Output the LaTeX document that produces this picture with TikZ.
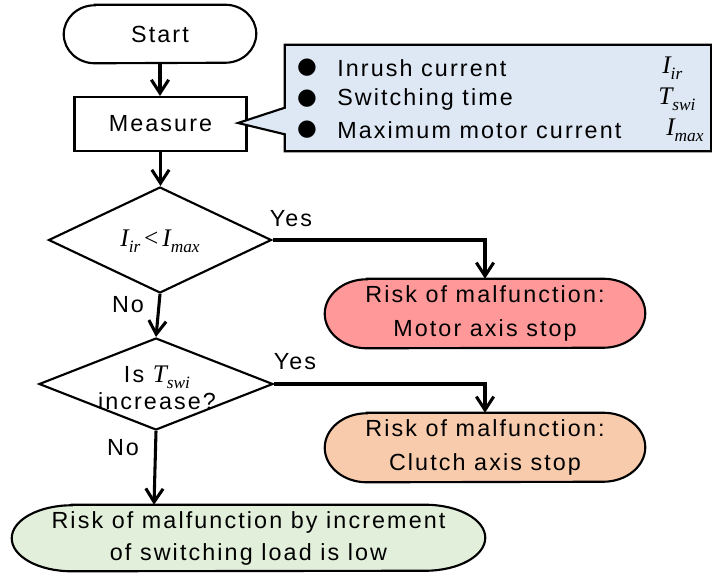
\documentclass[tikz,border=0pt]{standalone}
\usepackage{fontspec}
\setmainfont[LetterSpace=9]{Liberation Sans}
\newfontfamily\tmfont{Liberation Serif}
\newfontfamily\dvfont{DejaVu Sans}
\usetikzlibrary{shapes.geometric,arrows.meta,backgrounds}
\definecolor{pinkfill}{HTML}{FF9999}
\definecolor{orangefill}{HTML}{F8CBAD}
\definecolor{greenfill}{HTML}{E2EFDA}
\definecolor{bluefill}{HTML}{DEE8F5}
\newcommand\mysub[1]{\raisebox{-0.5ex}{\fontsize{13}{13}\selectfont #1}}
\newcommand\mathv[2]{{\tmfont\itshape\fontsize{19}{19}\selectfont #1\mysub{#2}}}
% stadium outline behind a named node: name, x radius (px), y radius (px), fill
\newcommand\stadium[4]{%
  \draw[line width=1.6pt,fill=#4]
    ([xshift=#2*0.75pt]#1.north west) -- ([xshift=-#2*0.75pt]#1.north east)
    arc[start angle=90,end angle=-90,x radius=#2*0.75pt,y radius=#3*0.75pt]
    -- ([xshift=#2*0.75pt]#1.south west)
    arc[start angle=270,end angle=90,x radius=#2*0.75pt,y radius=#3*0.75pt]
    -- cycle;}
\begin{document}
\begin{tikzpicture}[x=0.75pt,y=-0.75pt,
  every node/.style={font=\fontsize{17.5}{25}\selectfont},
  box/.style={draw,line width=1.6pt,inner sep=0pt,align=center},
  term/.style={inner sep=0pt,align=center},
  decision/.style={box,diamond},
  arr/.style={line width=2.3pt,-{Straight Barb[length=10pt,width=13pt,line width=2.3pt]}},
  lbl/.style={inner sep=0pt,align=center}]
\useasboundingbox (0,0) rectangle (712,572);

\node[term,minimum width=144pt,minimum height=43.5pt] (start) at (160,34) {Start};
\node[box,minimum width=129pt,minimum height=40.5pt] (measure) at (160.5,124) {Measure};
\node[decision,minimum width=167.25pt,minimum height=79.5pt] (d1) at (160,240) {};
\node[lbl] (d1t) at (160,241) {\mathv{I}{ir}\,{\tmfont\fontsize{19}{19}\selectfont <}\,\mathv{I}{max}};
\node[decision,minimum width=175.5pt,minimum height=69pt] (d2) at (156,384) {};
\node[lbl,font=\fontsize{17.5}{19}\selectfont] (d2t) at (157,388) {Is \mathv{T}{swi}\\[1pt]increase?};
\node[term,minimum width=240pt,minimum height=51.75pt,
  font=\fontsize{17.5}{26}\selectfont] (pink) at (485,313.5)
  {Risk of malfunction:\\Motor axis stop};
\node[term,minimum width=240pt,minimum height=51.75pt,
  font=\fontsize{17.5}{26}\selectfont] (orange) at (485,447.5)
  {Risk of malfunction:\\Clutch axis stop};
\node[term,minimum width=354.75pt,minimum height=49.5pt,
  font=\fontsize{17.5}{24}\selectfont] (green) at (248.5,538)
  {Risk of malfunction by increment\\of switching load is low};

\begin{scope}[on background layer]
  \stadium{start}{31}{29}{white}
  \stadium{pink}{42}{34.5}{pinkfill}
  \stadium{orange}{42}{34.5}{orangefill}
  \stadium{green}{60}{33}{greenfill}
\end{scope}

% callout
\node[inner sep=0pt,minimum width=319.5pt,minimum height=79.5pt] (info) at (498,98) {};
\coordinate (tip) at (238,123);
\draw[line width=1.6pt,fill=bluefill,line join=miter]
  (info.north west) -- (info.north east) -- (info.south east) -- (info.south west)
  -- ([yshift=12.75pt]info.south west) -- (tip) -- ([yshift=-47.25pt]info.north west) -- cycle;
\foreach \y/\t/\n in {68/Inrush current/b1, 99/Switching time/b2, 130/Maximum motor current/b3}{
  \node[lbl,font=\dvfont\fontsize{17}{17}\selectfont] (\n) at (307,\y) {●};
  \node[lbl,anchor=west] (\n t) at (337,\y) {\t};
}
\node[lbl,anchor=west] (s1) at (662,68) {\mathv{I}{ir}};
\node[lbl,anchor=west] (s2) at (658,99) {\mathv{T}{swi}};
\node[lbl,anchor=west] (s3) at (666,130) {\mathv{I}{max}};

% connectors
\draw[arr] (start.south) -- (start.south |- measure.north);
\draw[arr] (measure.south) -- (measure.south |- d1.north);
\draw[arr] (d1.east) -| (pink.north);
\draw[arr] (d1.south) -- (d2.north);
\draw[arr] (d2.east) -| (orange.north);
\draw[arr] (d2.south) -- ([xshift=-1.5pt]d2.south |- green.north);

\node[lbl] (y1) at (291,219) {Yes};
\node[lbl] (y2) at (295,362) {Yes};
\node[lbl] (n1) at (128,305) {No};
\node[lbl] (n2) at (123,448) {No};
\end{tikzpicture}
\end{document}
